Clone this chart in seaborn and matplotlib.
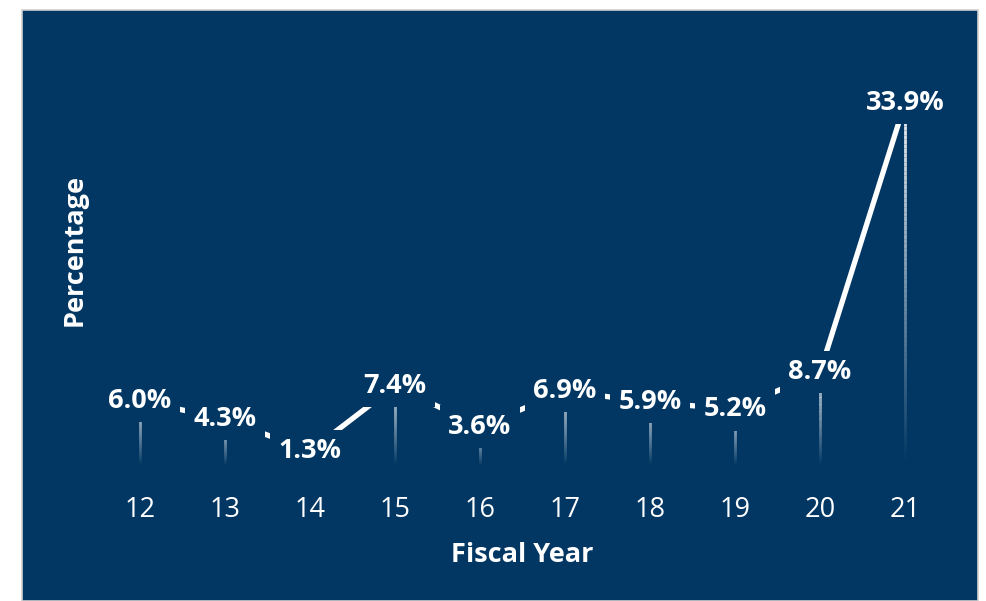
import numpy as np
import pandas as pd
import matplotlib
matplotlib.use("Agg")
import matplotlib.pyplot as plt
import seaborn as sns
from matplotlib.collections import LineCollection
from matplotlib.patches import Rectangle

years = [12, 13, 14, 15, 16, 17, 18, 19, 20, 21]
values = [6.0, 4.3, 1.3, 7.4, 3.6, 6.9, 5.9, 5.2, 8.7, 33.9]
labels = ["6.0%", "4.3%", "1.3%", "7.4%", "3.6%", "6.9%", "5.9%", "5.2%", "8.7%", "33.9%"]

BG = "#023763"

sns.set_theme(style="white")
plt.rcParams['font.family'] = ['Open Sans', 'DejaVu Sans']

fig = plt.figure(figsize=(9.87, 6.01), dpi=100)
fig.patch.set_facecolor("white")
fig.patches.append(Rectangle((22/987, 0), (978-22)/987, (601-10)/601,
                             transform=fig.transFigure, facecolor=BG,
                             edgecolor="#d0d0d0", linewidth=1.2, zorder=-10))

ax = fig.add_axes([97.5/987, (601-465)/601, 850/987, 384.5/601])
ax.set_zorder(5)
ax.set_facecolor("none")
df = pd.DataFrame({"year": years, "value": values})

# gradient drop lines
for x, v in zip(years, values):
    n = 80
    ys = np.linspace(v, 0, n + 1)
    segs = [[(x, ys[i]), (x, ys[i + 1])] for i in range(n)]
    alphas = np.linspace(0.95, 0.0, n)
    cols = [(1, 1, 1, a) for a in alphas]
    ax.add_collection(LineCollection(segs, colors=cols, linewidths=2, zorder=1))

sns.lineplot(data=df, x="year", y="value", color="white", linewidth=3.8, ax=ax, zorder=2)

for x, v, t in zip(years, values, labels):
    ax.text(x, v, t, ha="center", va="center", color="white", fontsize=19.5,
            fontweight="bold", zorder=5,
            bbox=dict(boxstyle="square,pad=0.3", facecolor=BG, edgecolor="none"))

ax.set_xlim(11.5, 21.5)
ax.set_ylim(0, 36)
ax.set_xticks(years)
ax.set_xticklabels([str(y) for y in years], color="white", fontsize=19.5)
ax.set_yticks([])
ax.tick_params(axis="x", length=0, pad=22.5)
for s in ax.spines.values():
    s.set_visible(False)
ax.set_xlabel("Fiscal Year", color="white", fontsize=19.5, fontweight="bold", labelpad=13)
ax.set_ylabel("")
fig.text(75/987, 1 - 250/601, "Percentage", rotation=90, ha="center", va="center",
         color="white", fontsize=19.5, fontweight="bold")

fig.savefig("out.png", dpi=100, facecolor=fig.get_facecolor())
